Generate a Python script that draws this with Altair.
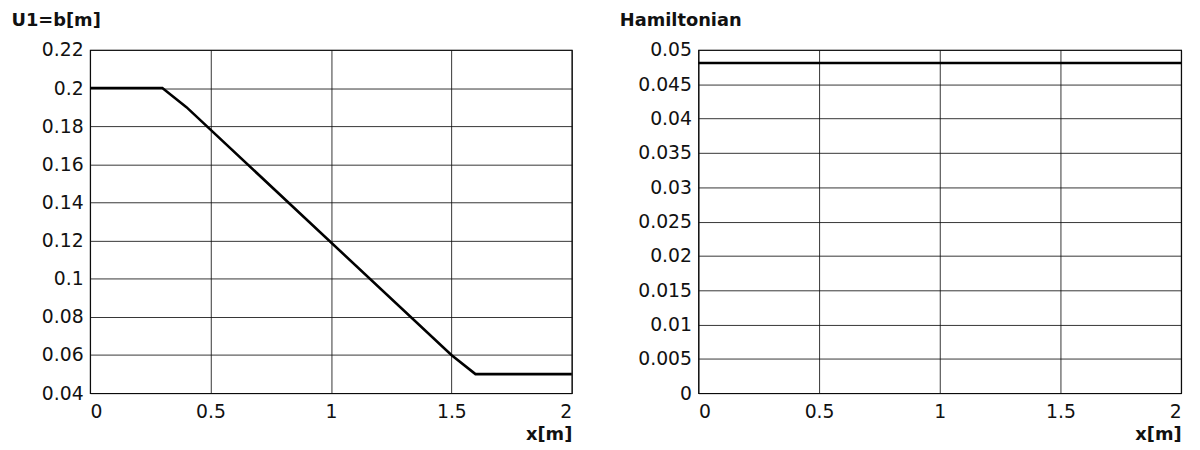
import altair as alt
import pandas as pd

# Left panel: U1 = b[m]
u_x = [0.0, 0.3, 0.4, 1.5, 1.6, 2.0]
u_y = [0.2, 0.2, 0.19, 0.06, 0.05, 0.05]

# Right panel: Hamiltonian
h_x = [0.0, 0.5, 1.0, 1.5, 2.0]
h_y = [0.0481, 0.0481, 0.0481, 0.0481, 0.0481]

x_ticks = [0, 0.5, 1, 1.5, 2]
u_ticks = [0.04, 0.06, 0.08, 0.1, 0.12, 0.14, 0.16, 0.18, 0.2, 0.22]
h_ticks = [0, 0.005, 0.01, 0.015, 0.02, 0.025, 0.03, 0.035, 0.04, 0.045, 0.05]

FONT = "DejaVu Sans"
W1, W2, H = 487, 488, 347

u_df = pd.DataFrame({"x": u_x, "y": u_y})
h_df = pd.DataFrame({"x": h_x, "y": h_y})


def panel(df, ytitle, yticks, ydomain, width):
    return alt.Chart(df).mark_line(color="black", strokeWidth=2.6).encode(
        x=alt.X("x:Q",
                scale=alt.Scale(domain=[0, 2], nice=False, zero=False),
                axis=alt.Axis(values=x_ticks, format="~g", title="x[m]",
                              titleAlign="right", titleBaseline="alphabetic",
                              titleX=width, titleY=47, titleAngle=0,
                              labelFlush=True, labelPadding=10)),
        y=alt.Y("y:Q",
                scale=alt.Scale(domain=ydomain, nice=False, zero=False),
                axis=alt.Axis(values=yticks, format=".3~f", title=ytitle,
                              titleAngle=0, titleAlign="left",
                              titleBaseline="alphabetic",
                              titleX=-80, titleY=-25, labelPadding=7)),
    ).properties(width=width, height=H)


left = panel(u_df, "U1=b[m]", u_ticks, [0.04, 0.22], W1)
right = panel(h_df, "Hamiltonian", h_ticks, [0, 0.05], W2)

chart = alt.hconcat(left, right, spacing=41).properties(
    padding={"left": 2, "top": 0, "right": 5, "bottom": 0}
).configure_view(
    stroke="black", strokeWidth=1.2
).configure_axis(
    domain=False,
    ticks=False,
    grid=True,
    gridColor="#111111",
    gridOpacity=0.85,
    gridWidth=1,
    labelFont=FONT,
    labelFontSize=19,
    labelColor="#111111",
    titleFont=FONT,
    titleFontSize=18,
    titleFontWeight="bold",
    titleColor="#111111",
)

chart.save("out.html", embed_options={"renderer": "svg", "actions": False})
